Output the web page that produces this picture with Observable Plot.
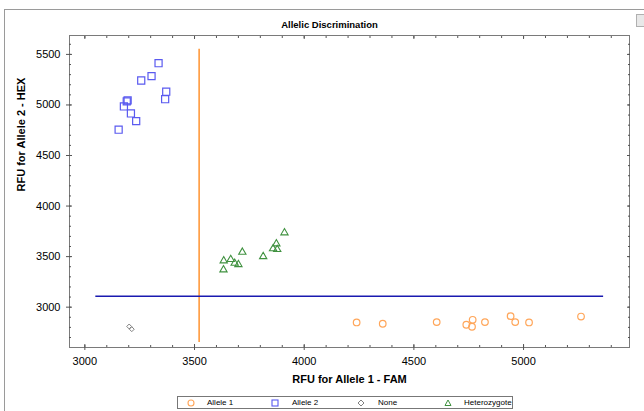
<!DOCTYPE html>
<html><head><meta charset="utf-8">
<script src="https://cdn.jsdelivr.net/npm/d3@7"></script>
<script src="https://cdn.jsdelivr.net/npm/@observablehq/plot@0.6"></script>
<style>
body{margin:0;background:#fff;font-family:"Liberation Sans",Arial,sans-serif;}
#wrap{position:relative;width:644px;height:411px;overflow:hidden;background:#fff;}
#wrap > svg{position:absolute;left:0;top:0;}
#border{position:absolute;left:4px;top:9px;width:660px;height:420px;border-top:1px solid #9a9a9a;border-left:1px solid #9a9a9a;}
#icon{position:absolute;left:636px;top:14px;width:8px;height:11px;border:1px solid #b0b0b0;background:#e8e8e8;}
#legend{position:absolute;left:177px;top:396px;width:334px;height:11px;border:1px solid #777;background:#fff;font-size:8px;color:#000;}
#legend .it{position:absolute;top:0;height:11px;line-height:11px;white-space:nowrap;}
#legend svg{position:absolute;top:1.5px;}
</style></head><body><div id="wrap"><div id="border"></div><div id="icon"></div></div>
<script>
// ---- data ----
const allele1FAM = [4239, 4358, 4604, 4739, 4768, 4765, 4824, 4941, 4962, 5025, 5262];
const allele1HEX = [2849, 2836, 2852, 2826, 2875, 2806, 2852, 2911, 2852, 2849, 2907];
const allele2FAM = [3336, 3304, 3257, 3371, 3366, 3195, 3191, 3178, 3210, 3234, 3154];
const allele2HEX = [5413, 5285, 5242, 5131, 5057, 5045, 5035, 4985, 4916, 4840, 4755];
const hetFAM = [3910, 3873, 3858, 3877, 3718, 3813, 3633, 3665, 3683, 3700, 3632];
const hetHEX = [3736, 3627, 3578, 3571, 3544, 3501, 3459, 3472, 3435, 3422, 3370];
const noneFAM = [3202, 3214];
const noneHEX = [2809, 2782];
const famThreshold = [3521];
const famThresholdSpan = [2650, 5550];
const hexThreshold = [3109];
const hexThresholdSpan = [3050, 5365];
const xTickLabels = [3000, 3500, 4000, 4500, 5000];
const yTickLabels = [3000, 3500, 4000, 4500, 5000, 5500];
const legendLabels = ["Allele 1", "Allele 2", "None", "Heterozygote"];
const titleText = "Allelic Discrimination";
const xLabel = "RFU for Allele 1 - FAM";
const yLabel = "RFU for Allele 2 - HEX";

const rows = (xs, ys) => xs.map((x, i) => ({fam: x, hex: ys[i]}));
const allele1 = rows(allele1FAM, allele1HEX);
const allele2 = rows(allele2FAM, allele2HEX);
const het = rows(hetFAM, hetHEX);
const none = rows(noneFAM, noneHEX);

const xMinor = d3.range(3000, 5401, 100);
const yMinor = d3.range(2700, 5601, 100);

const C = {a1: "#ffa65a", a2: "#5a5af0", none: "#808080", het: "#3f913f"};
const fmt = d => String(d);
const noText = () => "";

const chart = Plot.plot({
  width: 644, height: 411,
  marginLeft: 69, marginRight: 15, marginTop: 35, marginBottom: 64,
  style: {fontFamily: '"Liberation Sans", Arial, sans-serif', fontSize: "11px", color: "#000", background: "transparent"},
  x: {domain: [2930, 5483]},
  y: {domain: [2601, 5687]},
  marks: [
    Plot.frame({stroke: "#7a7a7a"}),
    // bottom ticks
    Plot.axisX({anchor: "bottom", ticks: xMinor, tickSize: -2, tickFormat: noText, label: null, stroke: "#555"}),
    Plot.axisX({anchor: "bottom", ticks: xTickLabels, tickSize: -3, tickFormat: noText, label: null, stroke: "#555"}),
    Plot.axisX({anchor: "bottom", ticks: xTickLabels, tickSize: 3, tickPadding: 7, tickFormat: fmt, label: null, stroke: "#555", fill: "#000"}),
    // top ticks
    Plot.axisX({anchor: "top", ticks: xMinor, tickSize: -2, tickFormat: noText, label: null, stroke: "#555"}),
    Plot.axisX({anchor: "top", ticks: xTickLabels, tickSize: -3, tickFormat: noText, label: null, stroke: "#555"}),
    // left ticks
    Plot.axisY({anchor: "left", ticks: yMinor, tickSize: -2, tickFormat: noText, label: null, stroke: "#555"}),
    Plot.axisY({anchor: "left", ticks: yTickLabels, tickSize: -3, tickFormat: noText, label: null, stroke: "#555"}),
    Plot.axisY({anchor: "left", ticks: yTickLabels, tickSize: 3, tickPadding: 6, tickFormat: fmt, label: null, stroke: "#555", fill: "#000"}),
    // right ticks
    Plot.axisY({anchor: "right", ticks: yMinor, tickSize: -2, tickFormat: noText, label: null, stroke: "#555"}),
    Plot.axisY({anchor: "right", ticks: yTickLabels, tickSize: -3, tickFormat: noText, label: null, stroke: "#555"}),
    // thresholds
    Plot.ruleX(famThreshold, {y1: famThresholdSpan[0], y2: famThresholdSpan[1], stroke: "#ff9a3c", strokeWidth: 1.6}),
    Plot.ruleY(hexThreshold, {x1: hexThresholdSpan[0], x2: hexThresholdSpan[1], stroke: "#1a1ab0", strokeWidth: 1.5}),
    // points
    Plot.dot(allele1, {x: "fam", y: "hex", symbol: "circle", r: 3.3, stroke: C.a1, strokeWidth: 1.2, fill: "none"}),
    Plot.dot(allele2, {x: "fam", y: "hex", symbol: "square", r: 4, stroke: C.a2, strokeWidth: 1.2, fill: "none"}),
    Plot.dot(het, {x: "fam", y: "hex", symbol: "triangle", r: 2.7, stroke: C.het, strokeWidth: 1.1, fill: "none"}),
    Plot.dot(none, {x: "fam", y: "hex", symbol: "diamond2", r: 2.2, stroke: C.none, strokeWidth: 1, fill: "none"}),
    // texts
    Plot.text([titleText], {frameAnchor: "top", dy: -14, dx: -20, fontWeight: "bold", fontSize: 9.5, fill: "#000"}),
    Plot.text([xLabel], {frameAnchor: "bottom", dy: 35, fontWeight: "bold", fontSize: 11, fill: "#000"}),
    Plot.text([yLabel], {frameAnchor: "left", dx: -48, rotate: -90, fontWeight: "bold", fontSize: 11, fill: "#000"})
  ]
});
document.getElementById("wrap").appendChild(chart);

// legend (HTML, below the plot area)
const leg = document.createElement("div");
leg.id = "legend";
const items = [
  {label: legendLabels[0], color: C.a1, shape: "circle", sx: 13, tx: 29},
  {label: legendLabels[1], color: C.a2, shape: "square", sx: 97, tx: 114},
  {label: legendLabels[2], color: C.none, shape: "diamond", sx: 183, tx: 200},
  {label: legendLabels[3], color: C.het, shape: "triangle", sx: 270, tx: 286}
];
for (const it of items) {
  const s = d3.create("svg").attr("width", 8).attr("height", 8).style("left", (it.sx - 4) + "px");
  const g = s.append("g").attr("transform", "translate(4,4)");
  if (it.shape === "circle") g.append("circle").attr("r", 3).attr("fill", "none").attr("stroke", it.color).attr("stroke-width", 1.1);
  if (it.shape === "square") g.append("rect").attr("x", -3).attr("y", -3).attr("width", 6).attr("height", 6).attr("fill", "none").attr("stroke", it.color).attr("stroke-width", 1.1);
  if (it.shape === "diamond") g.append("path").attr("d", "M0,-3L3,0L0,3L-3,0Z").attr("fill", "none").attr("stroke", it.color).attr("stroke-width", 1);
  if (it.shape === "triangle") g.append("path").attr("d", "M0,-3L3,2.5L-3,2.5Z").attr("fill", "none").attr("stroke", it.color).attr("stroke-width", 1);
  leg.appendChild(s.node());
  const t = document.createElement("span");
  t.className = "it"; t.style.left = it.tx + "px"; t.textContent = it.label;
  leg.appendChild(t);
}
document.getElementById("wrap").appendChild(leg);
</script></body></html>
